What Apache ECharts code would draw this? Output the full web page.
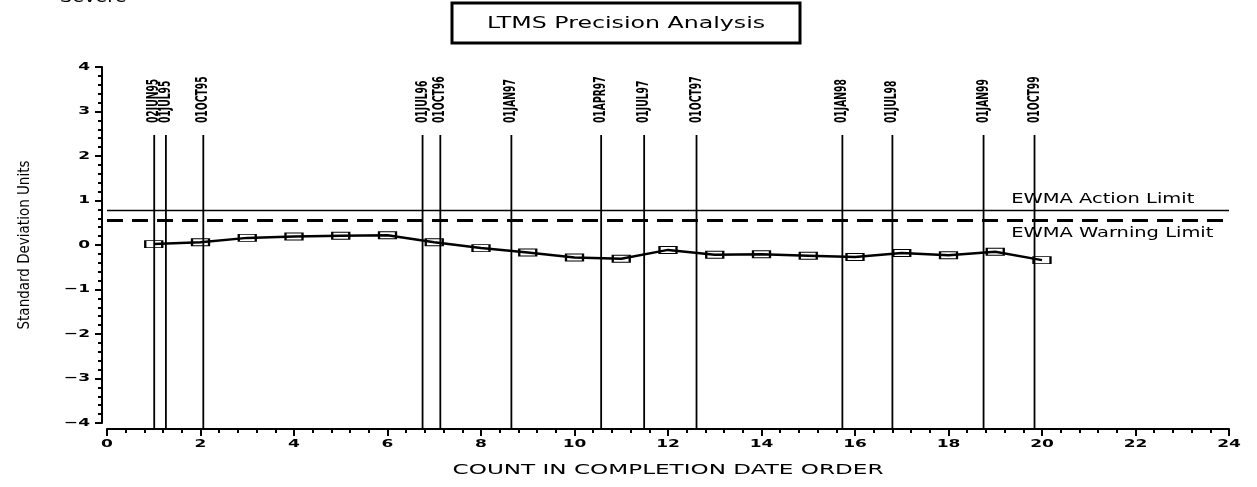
<!DOCTYPE html>
<html>
<head>
<meta charset="utf-8">
<script src="https://cdn.jsdelivr.net/npm/echarts@6/dist/echarts.min.js"></script>
<style>
  html, body { margin: 0; padding: 0; background: #fff; }
  #chart { width: 1257px; height: 487px; }
</style>
</head>
<body>
<div id="chart"></div>
<script>
// EWMA values by completion order
const counts = [1, 2, 3, 4, 5, 6, 7, 8, 9, 10, 11, 12, 13, 14, 15, 16, 17, 18, 19, 20]
const ewma = [0.02, 0.06, 0.16, 0.19, 0.21, 0.22, 0.06, -0.07, -0.17, -0.28,
  -0.31, -0.11, -0.22, -0.21, -0.24, -0.27, -0.18, -0.23, -0.15, -0.34]

// date reference lines (position on the count axis)
const refDates = ['02JUN95', '01JUL95', '01OCT95', '01JUL96', '01OCT96', '01JAN97',
  '01APR97', '01JUL97', '01OCT97', '01JAN98', '01JUL98', '01JAN99', '01OCT99']
const refPositions = [1.01, 1.26, 2.06, 6.75, 7.13, 8.65, 10.57, 11.49, 12.61, 15.73, 16.8, 18.75, 19.84]

// control limits
const limitNames = ['EWMA Action Limit', 'EWMA Warning Limit']
const limitValues = [0.79, 0.56]

// tick labels
const xTickLabels = [0, 2, 4, 6, 8, 10, 12, 14, 16, 18, 20, 22, 24]
const yTickLabels = [-4, -3, -2, -1, 0, 1, 2, 3, 4]

const X_MIN = 0, X_MAX = 24, X_STEP = 2
const Y_MIN = -4, Y_MAX = 4, Y_STEP = 1

const REF_TOP = 2.47      // where the date lines stop
const LIMIT_LABEL_X = 19.34

const wide = 'DejaVu Sans'
const narrow = '"DejaVu Sans Condensed", sans-serif'

const chart = echarts.init(document.getElementById('chart'))

// stretched text, to get close to the wide plotter font
const wideText = (x, y, text, opts) => ({
  type: 'text', x, y, scaleX: opts.scaleX || 1.55,
  style: {
    text, fontFamily: wide, fontSize: opts.fontSize || 11, fontWeight: opts.fontWeight || 'normal',
    align: opts.align || 'center', verticalAlign: 'middle', fill: '#000'
  }
})

const option = {
  backgroundColor: '#fff',
  animation: false,
  grid: { left: 107, right: 28, top: 67, bottom: 64 },
  graphic: [
    {
      type: 'rect',
      shape: { x: 452, y: 3, width: 348, height: 40 },
      style: { fill: '#fff', stroke: '#000', lineWidth: 3 }
    },
    wideText(626, 24, 'LTMS Precision Analysis', { scaleX: 1.48, fontSize: 16 }),
    {
      type: 'text', x: 60, y: 6, scaleX: 1.2,
      style: { text: 'Severe', fontFamily: wide, fontSize: 16,
        align: 'left', verticalAlign: 'bottom', fill: '#000' }
    },
    wideText(668, 470, 'COUNT IN COMPLETION DATE ORDER', { scaleX: 1.65, fontSize: 14 })
  ],
  xAxis: {
    type: 'value',
    min: X_MIN,
    max: X_MAX,
    interval: X_STEP,
    offset: 6,
    splitLine: { show: false },
    axisLine: { onZero: false, lineStyle: { color: '#000', width: 2 } },
    axisTick: { length: 7, lineStyle: { color: '#000', width: 2 } },
    minorTick: { show: true, splitNumber: 5, length: 4, lineStyle: { color: '#000', width: 2 } },
    axisLabel: { show: false }
  },
  yAxis: {
    type: 'value',
    min: Y_MIN,
    max: Y_MAX,
    interval: Y_STEP,
    offset: 5,
    name: 'Standard Deviation Units',
    nameLocation: 'middle',
    nameGap: 69,
    nameTextStyle: { color: '#000', fontFamily: narrow, fontSize: 15 },
    splitLine: { show: false },
    axisLine: { onZero: false, lineStyle: { color: '#000', width: 2 } },
    axisTick: { length: 7, lineStyle: { color: '#000', width: 2 } },
    minorTick: { show: true, splitNumber: 5, length: 4, lineStyle: { color: '#000', width: 2 } },
    axisLabel: { show: false }
  },
  series: [
    {
      // vertical date lines with their labels
      type: 'custom',
      clip: false,
      silent: true,
      data: refPositions.map(v => [v, REF_TOP]),
      encode: { x: 0, y: 1 },
      renderItem: (params, api) => {
        const x = api.value(0)
        const bottom = api.coord([x, Y_MIN])
        const top = api.coord([x, api.value(1)])
        return {
          type: 'group',
          children: [
            {
              type: 'line',
              shape: { x1: bottom[0], y1: bottom[1] + 6, x2: top[0], y2: top[1] },
              style: { stroke: '#000', lineWidth: 1.8 }
            },
            {
              type: 'text',
              x: top[0], y: top[1] - 12,
              rotation: Math.PI / 2,
              scaleX: 0.79,
              scaleY: 1.2,
              style: {
                text: refDates[params.dataIndex],
                fontFamily: narrow, fontSize: 13, fontWeight: 'bold',
                align: 'left', verticalAlign: 'middle', fill: '#000'
              }
            }
          ]
        }
      },
      z: 1
    },
    {
      type: 'line',
      data: counts.map((c, i) => [c, ewma[i]]),
      symbol: 'rect',
      symbolSize: [17, 7],
      itemStyle: { color: 'rgba(0,0,0,0)', borderColor: '#000', borderWidth: 1.5 },
      lineStyle: { color: '#000', width: 2.5 },
      markLine: {
        silent: true,
        symbol: 'none',
        label: { show: false },
        data: [
          { yAxis: limitValues[0], lineStyle: { color: '#000', width: 1.4, type: 'solid' } },
          { yAxis: limitValues[1], lineStyle: { color: '#000', width: 3.2, type: [16, 9] } }
        ]
      },
      z: 3
    },
    {
      // limit labels
      type: 'custom',
      clip: false,
      silent: true,
      data: limitValues.map(v => [LIMIT_LABEL_X, v]),
      encode: { x: 0, y: 1 },
      renderItem: (params, api) => {
        const p = api.coord([api.value(0), api.value(1)])
        const above = params.dataIndex === 0
        return wideText(p[0], p[1] + (above ? -10 : 13), limitNames[params.dataIndex],
          { scaleX: 1.39, fontSize: 14, align: 'left' })
      },
      z: 4
    },
    {
      // x tick labels
      type: 'custom',
      clip: false,
      silent: true,
      data: xTickLabels.map(v => [v, Y_MIN]),
      encode: { x: 0, y: 1 },
      renderItem: (params, api) => {
        const p = api.coord([api.value(0), api.value(1)])
        return wideText(p[0], p[1] + 21, String(xTickLabels[params.dataIndex]),
          { fontWeight: 'bold' })
      }
    },
    {
      // y tick labels
      type: 'custom',
      clip: false,
      silent: true,
      data: yTickLabels.map(v => [X_MIN, v]),
      encode: { x: 0, y: 1 },
      renderItem: (params, api) => {
        const p = api.coord([api.value(0), api.value(1)])
        const v = yTickLabels[params.dataIndex]
        return wideText(p[0] - 17, p[1], String(v).replace('-', '\u2212'),
          { fontWeight: 'bold', align: 'right' })
      }
    }
  ]
}

chart.setOption(option)
</script>
</body>
</html>
